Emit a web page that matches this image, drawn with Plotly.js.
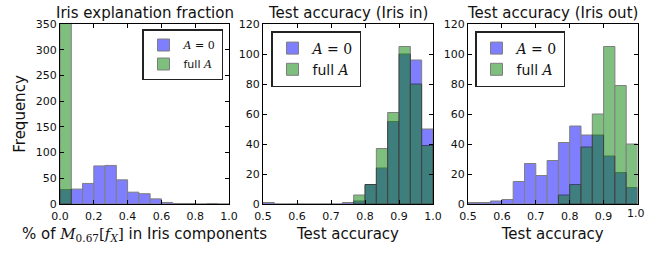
<!DOCTYPE html>
<html>
<head>
<meta charset="utf-8">
<script src="https://cdn.plot.ly/plotly-3.0.1.min.js"></script>
<style>
html,body{margin:0;padding:0;background:#fff;}
#chart{width:646px;height:253px;}
</style>
</head>
<body>
<div id="chart"></div>
<script>
// ---- data ----
const binWidth1 = 1/15;
const binStart1 = 0.0;
const fracZero = [28, 29, 40, 74, 75, 47, 23, 20, 10, 3, 1, 1, 0, 1, 0];
const fracFull = [352];

const binWidth2 = 1/30;
const binStart2 = 0.5;
const inZero = [1, 0, 0, 0, 0, 0, 0, 1, 2, 13, 24, 55, 100, 96, 50];
const inFullStart = 0.7666667;
const inFull = [6, 13, 37, 61, 105, 80, 39];

const outZero = [1, 1, 2, 3, 15, 27, 19, 29, 41, 52, 46, 46, 32, 21, 11];
const outFullStart = 0.7666667;
const outFull = [6, 13, 38, 60, 105, 79, 40];

const ticks1 = [0, 0.2, 0.4, 0.6, 0.8, 1.0];
const ticks2 = [0.5, 0.6, 0.7, 0.8, 0.9, 1.0];
const tickText2 = ['0.5', '0.6', '0.7', '0.8', '0.9', '1.0'];
const tickText3 = ['0.5', '0.6', '0.7', '0.8', '0.9', ''];
const edgeTickText3 = '1.0';
const yticks1 = [0, 50, 100, 150, 200, 250, 300, 350];
const yticks2 = [0, 20, 40, 60, 80, 100, 120];

const titles = ['Iris explanation fraction', 'Test accuracy (Iris in)', 'Test accuracy (Iris out)'];
const xTitles = ['% of <span style="font-family:\'DejaVu Serif\'"><i>M</i><sub>0.67</sub>[<i>f</i><sub><i>X</i></sub>]</span> in Iris components', 'Test accuracy', 'Test accuracy'];
const nameZero = '<span style="font-family:\'DejaVu Serif\'"><i>A</i> = 0</span>';
const nameFull = 'full <span style="font-family:\'DejaVu Serif\'"><i>A</i></span>';

// ---- helpers ----
function centers(start, w, n){ const c=[]; for(let i=0;i<n;i++) c.push(start + w*(i+0.5)); return c; }

const BLUE = 'rgb(0,0,255)', GREEN = 'rgb(0,128,0)';
function barTrace(vals, start, w, color, name, ax, legend){
  return {
    type:'bar', x: centers(start, w, vals.length), y: vals, width: w,
    marker:{color: color, line:{color:'black', width:1}}, opacity:0.5,
    name: name, xaxis: 'x'+ax, yaxis:'y'+ax, legend: legend, showlegend:true
  };
}

const traces = [
  barTrace(fracZero, binStart1, binWidth1, BLUE, nameZero, '', 'legend'),
  barTrace(fracFull, binStart1, binWidth1, GREEN, nameFull, '', 'legend'),
  barTrace(inZero, binStart2, binWidth2, BLUE, nameZero, '2', 'legend2'),
  barTrace(inFull, inFullStart, binWidth2, GREEN, nameFull, '2', 'legend2'),
  barTrace(outZero, binStart2, binWidth2, BLUE, nameZero, '3', 'legend3'),
  barTrace(outFull, outFullStart, binWidth2, GREEN, nameFull, '3', 'legend3'),
];

const W = 646, H = 253;
const yDom = [1-204/H, 1-24/H];
const xDoms = [[60/W, 229/W], [263/W, 433/W], [468/W, 637.5/W]];
const FONT = 'DejaVu Sans';
const TXT = '#111';

function xAxis(i){
  const base = {
    domain: xDoms[i], anchor: i===0 ? 'y' : 'y'+(i+1),
    showline:true, linecolor:'black', linewidth:1, mirror:'allticks',
    ticks:'inside', ticklen:4, tickcolor:'black', showgrid:false, zeroline:false,
    tickfont:{size:11, color:TXT, family:FONT}, tickformat:'.1f', tickmode:'array',
    ticklabelstandoff:2, ticklabeloverflow:'allow',
    title:{text:xTitles[i], font:{size:15, color:TXT, family:FONT}, standoff:6}
  };
  if(i===0){ base.range=[0,1]; base.tickvals=ticks1; }
  else { base.range=[0.5,1]; base.tickvals=ticks2; base.ticktext = (i===1 ? tickText2 : tickText3); }
  return base;
}
function yAxis(i){
  const base = {
    domain: yDom, anchor: i===0 ? 'x' : 'x'+(i+1),
    showline:true, linecolor:'black', linewidth:1, mirror:'allticks',
    ticks:'inside', ticklen:4, tickcolor:'black', showgrid:false, zeroline:false,
    tickfont:{size:11, color:TXT, family:FONT}, tickmode:'array', ticklabeloverflow:'allow'
  };
  if(i===0){ base.range=[0,350]; base.tickvals=yticks1; base.title={text:'Frequency', font:{size:15,color:TXT,family:FONT}, standoff:6}; }
  else { base.range=[0,120]; base.tickvals=yticks2; }
  return base;
}

const legBase = {bordercolor:'#222', borderwidth:1.5, bgcolor:'white', tracegroupgap:0, itemwidth:30, yanchor:'top'};
const annotations = titles.map((t,i)=>({
  text:t, xref:'paper', yref:'paper', x:(xDoms[i][0]+xDoms[i][1])/2, y:1-24/H, yshift:0,
  xanchor:'center', yanchor:'bottom', showarrow:false, font:{size:15, color:TXT, family:FONT}
}));
// edge tick label of the third x axis (kept inside the page, right-aligned at its edge)
annotations.push({
  text: edgeTickText3, xref:'paper', yref:'paper', x: 1, y: yDom[0], yshift:-2,
  xanchor:'right', yanchor:'top', showarrow:false, borderpad:0, font:{size:11, color:TXT, family:FONT}
});

const layout = {
  width: W, height: H, margin:{l:0,r:0,t:0,b:0},
  paper_bgcolor:'white', plot_bgcolor:'white',
  font:{family: FONT, color:TXT},
  barmode:'overlay', bargap:0,
  xaxis: xAxis(0), yaxis: yAxis(0),
  xaxis2: xAxis(1), yaxis2: yAxis(1),
  xaxis3: xAxis(2), yaxis3: yAxis(2),
  legend: Object.assign({}, legBase, {x:223/W, xanchor:'right', y:1-29/H, font:{size:11, family:FONT, color:TXT}}),
  legend2: Object.assign({}, legBase, {x:271/W, xanchor:'left', y:1-31/H, font:{size:14, family:FONT, color:TXT}}),
  legend3: Object.assign({}, legBase, {x:475/W, xanchor:'left', y:1-31/H, font:{size:14, family:FONT, color:TXT}}),
  annotations: annotations
};

Plotly.newPlot('chart', traces, layout, {staticPlot:true, displayModeBar:false});
</script>
</body>
</html>
